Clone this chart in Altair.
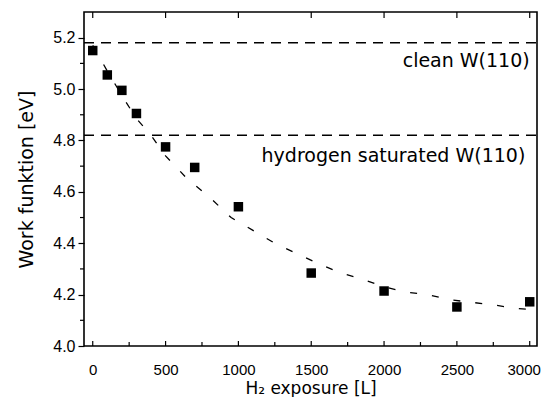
import altair as alt
import pandas as pd

# measured points
exposure = [0, 100, 200, 300, 500, 700, 1000, 1500, 2000, 2500, 3000]
work_fn = [5.15, 5.055, 4.995, 4.905, 4.775, 4.695, 4.542, 4.284, 4.214, 4.152, 4.172]

# dashed fit curve
fit_x = [0, 100, 200, 300, 400, 500, 650, 800, 950, 1100, 1250, 1400, 1550,
         1700, 1850, 2000, 2150, 2300, 2450, 2600, 2750, 2900, 2980]
fit_y = [5.17, 5.07, 4.975, 4.885, 4.82, 4.74, 4.65, 4.58, 4.50, 4.45, 4.40,
         4.36, 4.32, 4.285, 4.26, 4.23, 4.21, 4.20, 4.18, 4.17, 4.16, 4.147, 4.143]

# reference levels and annotations
ref_levels = [5.18, 4.82]
ann_text = ["clean W(110)", "hydrogen saturated W(110)"]
ann_x = [3000, 2970]
ann_y = [5.11, 4.74]

# axis ticks
x_major = [0, 500, 1000, 1500, 2000, 2500, 3000]
x_minor = [250, 750, 1250, 1750, 2250, 2750]
y_major = [4.0, 4.2, 4.4, 4.6, 4.8, 5.0, 5.2]
y_minor = [4.1, 4.3, 4.5, 4.7, 4.9, 5.1]

W, H = 453, 334
xdom = [-60, 3050]
ydom = [4.0, 5.3]

pts = pd.DataFrame({"x": exposure, "y": work_fn})
fit = pd.DataFrame({"x": fit_x, "y": fit_y})
refs = pd.DataFrame({"y": ref_levels})
ann = pd.DataFrame({"t": ann_text, "x": ann_x, "y": ann_y})
xmaj = pd.DataFrame({"x": x_major})
xmin = pd.DataFrame({"x": x_minor})
ymin = pd.DataFrame({"y": y_minor})

xs = alt.Scale(domain=xdom, nice=False, zero=False)
ys = alt.Scale(domain=ydom, nice=False, zero=False)

black = "#000000"

base_x = alt.X("x:Q", scale=xs, title="H₂ exposure [L]",
               axis=alt.Axis(values=x_major, format="d", ticks=False, domain=False, grid=False,
                             labelPadding=16, labelFont="Liberation Sans", labelFontSize=15,
                             labelColor=black, titleFont="DejaVu Sans", titleFontSize=17,
                             titleFontWeight="normal", titleColor=black,
                             titleBaseline="alphabetic", titleY=47,
                             labelOffset={"condition": {"test": "datum.value == 3000", "value": -6},
                                          "value": 0},
                             labelFlush=False))
base_y = alt.Y("y:Q", scale=ys, title="Work funktion [eV]",
               axis=alt.Axis(values=y_major, format=".1f", tickSize=6, tickColor=black,
                             tickWidth=1.2, domain=False, grid=False, labelPadding=3,
                             labelFont="Liberation Sans", labelFontSize=16, labelColor=black,
                             titleFont="DejaVu Sans", titleFontSize=19, titleFontWeight="normal",
                             titleColor=black, titlePadding=16, labelFlush=False))

points = alt.Chart(pts).mark_square(size=90, color=black, opacity=1).encode(x=base_x, y=base_y)

curve = alt.Chart(fit).mark_line(color=black, strokeWidth=1.3, strokeDash=[7, 15]).encode(
    x=alt.X("x:Q", scale=xs), y=alt.Y("y:Q", scale=ys))

hlines = alt.Chart(refs).mark_rule(color=black, strokeWidth=1.5, strokeDash=[10, 7]).encode(
    y=alt.Y("y:Q", scale=ys), x=alt.value(0), x2=alt.value(W))

labels = alt.Chart(ann).mark_text(align="right", baseline="middle", font="DejaVu Sans",
                                  fontSize=19, color=black).encode(
    x=alt.X("x:Q", scale=xs), y=alt.Y("y:Q", scale=ys), text="t:N")

top_ticks = alt.Chart(xmaj).mark_rule(color=black, strokeWidth=1.2).encode(
    x=alt.X("x:Q", scale=xs), y=alt.value(0), y2=alt.value(6))
bot_major = alt.Chart(xmaj).mark_rule(color=black, strokeWidth=1.2).encode(
    x=alt.X("x:Q", scale=xs), y=alt.value(H), y2=alt.value(H - 5))
bot_minor = alt.Chart(xmin).mark_rule(color=black, strokeWidth=1.2).encode(
    x=alt.X("x:Q", scale=xs), y=alt.value(H), y2=alt.value(H - 4))
left_minor = alt.Chart(ymin).mark_rule(color=black, strokeWidth=1.2).encode(
    y=alt.Y("y:Q", scale=ys), x=alt.value(0), x2=alt.value(-4))

chart = alt.layer(hlines, curve, top_ticks, bot_major, bot_minor, left_minor, labels, points).properties(
    width=W, height=H,
    autosize=alt.AutoSizeParams(type="none"),
    padding={"left": 76, "top": 4, "right": 5, "bottom": 51},
    background="white",
).configure_view(stroke=black, strokeWidth=1.6)

chart.save("out.html", embed_options={"renderer": "svg", "actions": False})
